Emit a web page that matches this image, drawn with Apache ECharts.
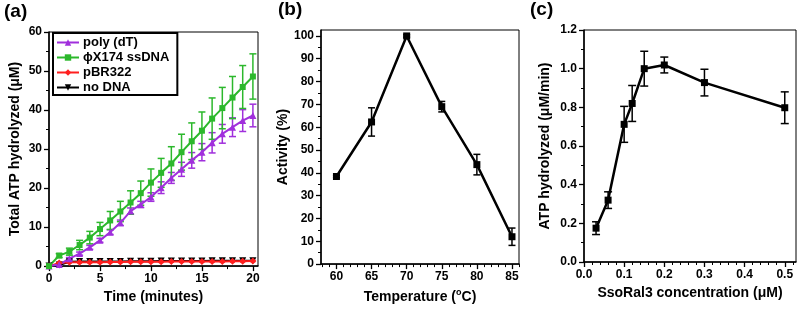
<!DOCTYPE html>
<html><head><meta charset="utf-8">
<script src="https://cdn.jsdelivr.net/npm/echarts@6/dist/echarts.min.js"></script>
<style>html,body{margin:0;padding:0;background:#fff}#c{width:800px;height:309px}</style>
</head><body><div id="c"></div>
<script>
// ---------- Panel (a) data ----------
const timeMin = [0,1,2,3,4,5,6,7,8,9,10,11,12,13,14,15,16,17,18,19,20];
const polyDT    = [0,0.4,1.9,3.2,4.8,6.6,8.7,11.1,14.1,15.8,17.7,20.1,22.6,24.8,27.1,29.2,31.6,33.9,35.6,37.3,38.6];
const polyDTErr = [0,0.2,0.3,0.4,0.5,0.5,0.6,0.7,0.8,0.8,1.1,1.5,1.4,1.8,2.0,2.2,2.6,2.4,2.4,2.8,2.9];
const phiX174    = [0,2.7,3.7,5.4,7.3,9.5,11.7,14.0,16.3,18.7,21.4,23.9,26.3,29.2,32.0,34.7,37.8,40.5,43.2,45.9,48.6];
const phiX174Err = [0,0.5,0.9,1.2,1.6,1.7,2.3,2.6,3.0,3.1,3.5,3.7,4.3,4.6,4.7,4.8,5.3,5.3,5.4,5.5,5.8];
const pBR322    = [0,0.8,1.0,1.0,1.0,1.0,1.05,1.05,1.1,1.1,1.1,1.1,1.15,1.15,1.15,1.2,1.2,1.2,1.25,1.25,1.3];
const pBR322Err = [0,0.2,0.2,0.2,0.2,0.2,0.2,0.2,0.2,0.2,0.2,0.2,0.2,0.2,0.2,0.2,0.2,0.2,0.2,0.2,0.2];
const noDNA     = [0,0.3,1.1,1.2,1.2,1.2,1.2,1.2,1.25,1.25,1.25,1.3,1.3,1.3,1.3,1.3,1.35,1.35,1.35,1.35,1.4];
const aXTicks = [0,5,10,15,20];
const aYTicks = [0,10,20,30,40,50,60];

// ---------- Panel (b) data ----------
const tempC = [60,65,70,75,80,85];
const activity = [38.4,62.3,100,69,43.6,12];
const activityErr = [0.5,6.2,0.5,2.3,4.5,3.8];
const bXTicks = [60,65,70,75,80,85];
const bYTicks = [0,10,20,30,40,50,60,70,80,90,100];

// ---------- Panel (c) data ----------
const concUM = [0.03,0.06,0.1,0.12,0.15,0.2,0.3,0.5];
const rate = [0.175,0.32,0.712,0.82,1.0,1.019,0.928,0.798];
const rateErr = [0.033,0.043,0.093,0.093,0.09,0.041,0.069,0.082];
const cXTicks = [0,0.1,0.2,0.3,0.4,0.5];
const cYTicks = [0,0.2,0.4,0.6,0.8,1.0,1.2];

// ---------- helpers ----------
const FONT = 'Liberation Sans';
function range(a, b, step) { const r = []; for (let i = 0; a + i*step <= b + 1e-9; i++) r.push(+(a + i*step).toFixed(6)); return r; }
function zip(xs, ys, es) { return xs.map((x, i) => es ? [x, ys[i], es[i]] : [x, ys[i]]); }

function axisPair(dim, gridIndex, min, max, major, minor, fmt, name, nameGap, nameStyleExtra) {
  const pos = dim === 'x' ? 'bottom' : 'left';
  const main = {
    type: 'value', gridIndex, min, max, position: pos,
    splitLine: { show: false },
    axisLine: { show: true, onZero: false, lineStyle: { color: '#000', width: 1.5 } },
    axisTick: { show: true, inside: false, length: 5, customValues: major, lineStyle: { color: '#000', width: 1.3 } },
    axisLabel: { customValues: major, margin: 7, color: '#000', fontFamily: FONT, fontWeight: 'bold', fontSize: 12,
                 formatter: fmt },
    name, nameLocation: 'middle', nameGap,
    nameTextStyle: Object.assign({ color: '#000', fontFamily: FONT, fontWeight: 'bold', fontSize: 14 }, nameStyleExtra || {})
  };
  const mino = {
    type: 'value', gridIndex, min, max, position: pos,
    splitLine: { show: false },
    axisLine: { show: false, onZero: false },
    axisTick: { show: true, inside: false, length: 3, customValues: minor, lineStyle: { color: '#000', width: 1 } },
    axisLabel: { show: false, customValues: minor }
  };
  return [main, mino];
}

function errSeries(name, xi, yi, data, color, capHalf, lw) {
  return {
    name, type: 'custom', xAxisIndex: xi, yAxisIndex: yi, data, z: 3,
    encode: { x: 0, y: 1 },
    renderItem: function (params, api) {
      const x = api.value(0), y = api.value(1), e = api.value(2);
      if (!e) return null;
      const hi = api.coord([x, y + e]), lo = api.coord([x, y - e]);
      const st = { stroke: color, lineWidth: lw };
      return { type: 'group', children: [
        { type: 'line', shape: { x1: hi[0], y1: hi[1], x2: lo[0], y2: lo[1] }, style: st },
        { type: 'line', shape: { x1: hi[0]-capHalf, y1: hi[1], x2: hi[0]+capHalf, y2: hi[1] }, style: st },
        { type: 'line', shape: { x1: lo[0]-capHalf, y1: lo[1], x2: lo[0]+capHalf, y2: lo[1] }, style: st }
      ]};
    }
  };
}

const PURPLE = '#a02fdc', GREEN = '#2cb82c', RED = '#ff1f1f', BLACK = '#000';
const intFmt = v => String(Math.round(v));
const dec1 = v => v.toFixed(1);

const richT = { fontSize: 14, fontWeight: 'bold', fontFamily: FONT, color: '#000', lineHeight: 18, verticalAlign: 'middle' };
const richS = { fontSize: 9, fontWeight: 'bold', fontFamily: FONT, color: '#000', lineHeight: 7, verticalAlign: 'top' };

const [axA, axAm] = axisPair('x', 0, 0, 20.5, aXTicks, range(0, 20, 2.5), intFmt, 'Time (minutes)', 21);
const [ayA, ayAm] = axisPair('y', 0, 0, 60, aYTicks, range(0, 60, 5), intFmt, 'Total ATP hydrolyzed (\u03bcM)', 27);
const [axB, axBm] = axisPair('x', 1, 57.8, 86, bXTicks, range(58, 86, 1), intFmt, '{t|Temperature (}{s|o}{t|C)}', 17,
  { rich: { t: richT, s: richS } });
const [ayB, ayBm] = axisPair('y', 1, 0, 102.6, bYTicks, range(0, 100, 5), intFmt, 'Activity (%)', 29);
const [axC, axCm] = axisPair('x', 2, 0, 0.528, cXTicks, range(0, 0.52, 0.02), dec1, 'SsoRal3 concentration (\u03bcM)', 23);
const [ayC, ayCm] = axisPair('y', 2, 0, 1.2, cYTicks, range(0, 1.2, 0.1), dec1, 'ATP hydrolyzed (\u03bcM/min)', 32);

const gridStyle = { show: true, borderColor: '#000', borderWidth: 1, backgroundColor: 'transparent' };
const titleStyle = { color: '#000', fontFamily: FONT, fontWeight: 'bold', fontSize: 19 };

const option = {
  animation: false,
  backgroundColor: '#fff',
  title: [
    { text: '(a)', left: 4, top: 2, padding: 0, textStyle: titleStyle },
    { text: '(b)', left: 278, top: 0, padding: 0, textStyle: titleStyle },
    { text: '(c)', left: 530, top: 0, padding: 0, textStyle: titleStyle }
  ],
  grid: [
    Object.assign({ left: 49, top: 32, width: 209, height: 235 }, gridStyle),
    Object.assign({ left: 321, top: 30, width: 198, height: 235.5 }, gridStyle),
    Object.assign({ left: 584, top: 30, width: 212, height: 232 }, gridStyle)
  ],
  xAxis: [axA, axAm, axB, axBm, axC, axCm],
  yAxis: [ayA, ayAm, ayB, ayBm, ayC, ayCm],
  legend: {
    data: ['poly (dT)', '\u03d5X174 ssDNA', 'pBR322', 'no DNA'],
    orient: 'vertical', left: 53, top: 33,
    borderColor: '#000', borderWidth: 2, padding: [3, 8, 1, 3],
    itemWidth: 22, itemHeight: 8, itemGap: 2,
    backgroundColor: '#fff',
    textStyle: { color: '#000', fontFamily: FONT, fontWeight: 'bold', fontSize: 13, lineHeight: 12, padding: [0, 0, 0, -1] }
  },
  series: [
    { name: 'no DNA', type: 'line', xAxisIndex: 0, yAxisIndex: 0, data: zip(timeMin, noDNA),
      symbol: 'triangle', symbolRotate: 180, symbolSize: 7, color: BLACK, lineStyle: { width: 2, color: BLACK }, itemStyle: { color: BLACK } },
    errSeries('pBR322-err', 0, 0, zip(timeMin, pBR322, pBR322Err), RED, 2.5, 1.2),
    { name: 'pBR322', type: 'line', xAxisIndex: 0, yAxisIndex: 0, data: zip(timeMin, pBR322),
      symbol: 'diamond', symbolSize: 7, color: RED, lineStyle: { width: 2, color: RED }, itemStyle: { color: RED } },
    errSeries('poly-err', 0, 0, zip(timeMin, polyDT, polyDTErr), PURPLE, 3.5, 1.5),
    { name: 'poly (dT)', type: 'line', xAxisIndex: 0, yAxisIndex: 0, data: zip(timeMin, polyDT),
      symbol: 'triangle', symbolSize: 7, color: PURPLE, lineStyle: { width: 2, color: PURPLE }, itemStyle: { color: PURPLE } },
    errSeries('phi-err', 0, 0, zip(timeMin, phiX174, phiX174Err), GREEN, 3.5, 1.5),
    { name: '\u03d5X174 ssDNA', type: 'line', xAxisIndex: 0, yAxisIndex: 0, data: zip(timeMin, phiX174),
      symbol: 'rect', symbolSize: 6, color: GREEN, lineStyle: { width: 2, color: GREEN }, itemStyle: { color: GREEN } },

    errSeries('b-err', 2, 2, zip(tempC, activity, activityErr), BLACK, 3.5, 1.5),
    { name: 'Activity', type: 'line', xAxisIndex: 2, yAxisIndex: 2, data: zip(tempC, activity),
      symbol: 'rect', symbolSize: 7, color: BLACK, lineStyle: { width: 2.5, color: BLACK }, itemStyle: { color: BLACK } },

    errSeries('c-err', 4, 4, zip(concUM, rate, rateErr), BLACK, 4, 1.5),
    { name: 'Rate', type: 'line', xAxisIndex: 4, yAxisIndex: 4, data: zip(concUM, rate),
      symbol: 'rect', symbolSize: 7, color: BLACK, lineStyle: { width: 2.5, color: BLACK }, itemStyle: { color: BLACK } }
  ]
};
const chart = echarts.init(document.getElementById('c'), null, { renderer: 'canvas' });
chart.setOption(option);
</script>
</body></html>
